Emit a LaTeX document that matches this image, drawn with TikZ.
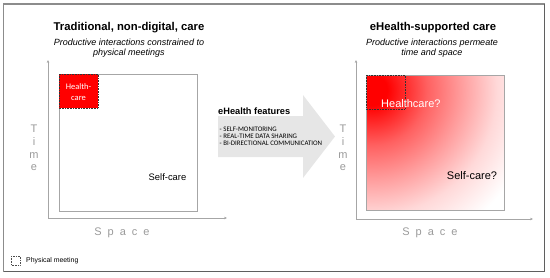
\documentclass[tikz,border=0pt]{standalone}
\usepackage{fontspec}
\setmainfont{Liberation Sans}
\newfontfamily\calib{Carlito}
\usetikzlibrary{arrows.meta}
\definecolor{framel}{HTML}{8C8C8C}
\definecolor{framed}{HTML}{5F5F5F}
\definecolor{axisgray}{HTML}{A6A6A6}
\definecolor{boxgray}{HTML}{A6A6A6}
\definecolor{lettergray}{HTML}{9A9A9A}
\definecolor{arrowgray}{HTML}{E6E6E6}
\definecolor{hred}{HTML}{FF0000}
\pgfdeclareradialshading{redfade}{\pgfpointorigin}{color(0bp)=(hred); color(1.9bp)=(hred); color(6.9bp)=(hred!62!white); color(11.25bp)=(hred!38!white); color(15.6bp)=(hred!15!white); color(20.6bp)=(white); color(50bp)=(white)}
\begin{document}
\begin{tikzpicture}[x=1pt,y=-1pt,
  title/.style={font=\fontsize{11.3}{13}\selectfont\bfseries, inner sep=0},
  subtitle/.style={font=\fontsize{9}{10}\selectfont\itshape, align=center, inner sep=0},
  axislabel/.style={font=\fontsize{11}{12.7}\selectfont, text=lettergray, inner sep=0, align=center},
  axisline/.style={draw=axisgray, line width=0.7, -{Stealth[length=3pt,width=2.6pt]}},
  panel/.style={draw=boxgray, line width=0.8},
  meeting/.style={densely dotted, draw=black!80, line width=0.6},
  caretext/.style={font=\fontsize{11}{13}\selectfont, inner sep=0},
]
\useasboundingbox (0,0) rectangle (550,277);
% frame
\draw[framel, line width=1.3] (3.5,271.5) -- (3.5,4) -- (544.5,4);
\draw[framed, line width=1.6] (544.5,4) -- (544.5,271.5) -- (3.5,271.5);

% ---------- left panel ----------
\node[title] (ltitle) at (129,28) {Traditional, non-digital, care};
\node[subtitle] (lsub) at (129,48) {Productive interactions constrained to\\physical meetings};
\coordinate (lorig) at (48,218);
\coordinate (ltop) at (48,60);
\coordinate (lright) at (227,218);
\draw[axisline] (lorig) -- (ltop);
\draw[axisline] (lorig) -- (lright);
\draw[panel] (59,74) rectangle (197,211);
\draw[meeting, fill=hred] (59,74) rectangle (98,108);
\node[font=\calib\fontsize{8.5}{10.6}\selectfont, text=white, align=center, inner sep=0] (lhc) at (78.5,92) {Health-\\care};
\node[font=\fontsize{9.4}{11}\selectfont, inner sep=0] (lsc) at (167.5,177) {Self-care};
\node[axislabel] (ltime) at (34,148) {T\\i\\m\\e};
\node[axislabel, anchor=base] (lspace) at (122,235) {S\hspace{6pt}p\hspace{6pt}a\hspace{6pt}c\hspace{6pt}e};

% ---------- middle arrow ----------
\fill[arrowgray] (218,116) -- (303,116) -- (303,95) -- (335,136.5) -- (303,178) -- (303,157) -- (218,157) -- cycle;
\node[font=\fontsize{9.25}{11}\selectfont\bfseries, anchor=west, inner sep=0] (feat) at (218,111) {eHealth features};
\node[font=\calib\fontsize{6.9}{7.2}\selectfont, anchor=west, align=left, inner sep=0] (featlist) at (219.5,136.5) {- SELF-MONITORING\\- REAL-TIME DATA SHARING\\- BI-DIRECTIONAL COMMUNICATION};

% ---------- right panel ----------
\node[title] (rtitle) at (433,28) {eHealth-supported care};
\node[subtitle] (rsub) at (432,48) {Productive interactions permeate\\time and space};
\coordinate (rorig) at (356,219);
\coordinate (rtop) at (356,60);
\coordinate (rright) at (533,219);
\draw[axisline] (rorig) -- (rtop);
\draw[axisline] (rorig) -- (rright);
\begin{scope}
  \clip (366,75) rectangle (504,210);
  \shade[shading=redfade] (372,90) circle (200);
\end{scope}
\draw[panel] (366,75) rectangle (504,210);
\draw[meeting] (366,75) rectangle (405,109);
\node[caretext, text=white, anchor=west] (rhc) at (381,104) {Healthcare?};
\node[caretext] (rsc) at (472,176) {Self-care?};
\node[axislabel] (rtime) at (343,148) {T\\i\\m\\e};
\node[axislabel, anchor=base] (rspace) at (430,235) {S\hspace{6pt}p\hspace{6pt}a\hspace{6pt}c\hspace{6pt}e};

% ---------- legend ----------
\draw[meeting, draw=black!70] (11,256) rectangle (20,265);
\node[font=\fontsize{6.9}{8}\selectfont, anchor=west, inner sep=0] (legend) at (26,261) {Physical meeting};
\end{tikzpicture}
\end{document}
